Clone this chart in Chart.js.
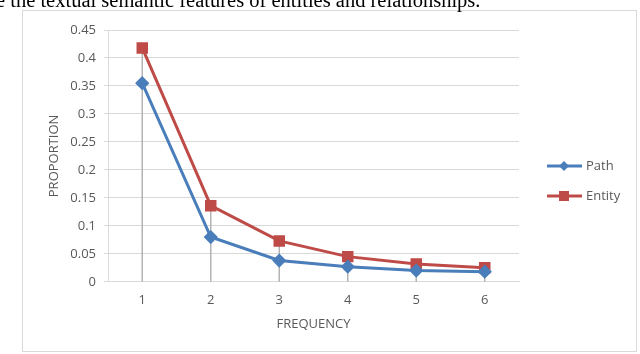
<!DOCTYPE html>
<html>
<head>
<meta charset="utf-8">
<script src="https://cdn.jsdelivr.net/npm/chart.js@4.4.1/dist/chart.umd.min.js"></script>
<style>
  html, body { margin: 0; padding: 0; background: #fff; }
  #wrap { position: relative; width: 640px; height: 354px; overflow: hidden; }
  #caption {
    position: absolute; left: -4px; top: -11px; white-space: nowrap;
    font-family: "Liberation Serif", "Times New Roman", serif; font-size: 20.5px; color: #000;
  }
  #frame {
    position: absolute; left: 22px; top: 10px; width: 613px; height: 340px;
    border: 1px solid #d9d9d9;
  }
  canvas { position: absolute; left: 0; top: 0; }
</style>
</head>
<body>
<div id="wrap">
  <div id="frame"></div>
  <canvas id="chart" width="640" height="354"></canvas>
  <div id="caption">e the textual semantic features of entities and relationships.</div>
</div>
<script>
// data
const frequencies = ['1', '2', '3', '4', '5', '6'];
const pathValues = [0.355, 0.080, 0.038, 0.027, 0.020, 0.018];
const entityValues = [0.418, 0.136, 0.073, 0.045, 0.032, 0.025];
const seriesNames = ['Path', 'Entity'];

const gray = '#595959';
const blue = '#4a7ebb';
const red = '#be4b48';

// gray drop lines from the highest point of each category down to the x axis
const dropLines = {
  id: 'dropLines',
  beforeDatasetsDraw(chart) {
    const ctx = chart.ctx;
    const xs = chart.scales.x, ys = chart.scales.y;
    ctx.save();
    ctx.strokeStyle = '#b3b3b3';
    ctx.lineWidth = 1.5;
    frequencies.forEach((f, i) => {
      const top = Math.max(...chart.data.datasets.map(d => d.data[i]));
      const x = xs.getPixelForValue(i);
      ctx.beginPath();
      ctx.moveTo(x, ys.getPixelForValue(top));
      ctx.lineTo(x, ys.getPixelForValue(0));
      ctx.stroke();
    });
    ctx.restore();
  }
};

// legend drawn as line + marker, like the office style
const sideLegend = {
  id: 'sideLegend',
  afterDraw(chart) {
    const ctx = chart.ctx;
    ctx.save();
    chart.data.datasets.forEach((d, i) => {
      const y = 166 + i * 30;
      ctx.strokeStyle = d.borderColor;
      ctx.lineWidth = 3;
      ctx.beginPath();
      ctx.moveTo(547, y);
      ctx.lineTo(582, y);
      ctx.stroke();
      ctx.fillStyle = d.borderColor;
      if (d.pointStyle === 'rect') {
        ctx.fillRect(559, y - 5, 10, 10);
      } else {
        ctx.beginPath();
        ctx.moveTo(564, y - 5);
        ctx.lineTo(569, y);
        ctx.lineTo(564, y + 5);
        ctx.lineTo(559, y);
        ctx.closePath();
        ctx.fill();
      }
      ctx.fillStyle = gray;
      ctx.font = '13px "Open Sans", sans-serif';
      ctx.textBaseline = 'middle';
      ctx.fillText(d.label, 586, y);
    });
    ctx.restore();
  }
};

new Chart(document.getElementById('chart'), {
  type: 'line',
  data: {
    labels: frequencies,
    datasets: [
      {
        label: seriesNames[0],
        data: pathValues,
        borderColor: blue,
        backgroundColor: blue,
        borderWidth: 3,
        pointStyle: 'rectRot',
        pointRadius: 5,
        pointHoverRadius: 5,
        tension: 0
      },
      {
        label: seriesNames[1],
        data: entityValues,
        borderColor: red,
        backgroundColor: red,
        borderWidth: 3,
        pointStyle: 'rect',
        pointRadius: 6,
        pointHoverRadius: 6,
        tension: 0
      }
    ]
  },
  options: {
    responsive: false,
    animation: false,
    layout: { padding: { left: 42, right: 121, top: 30, bottom: 18 } },
    plugins: {
      legend: { display: false },
      tooltip: { enabled: false }
    },
    scales: {
      x: {
        offset: true,
        grid: { display: false, drawTicks: false },
        border: { color: '#d9d9d9', width: 1 },
        ticks: { color: gray, font: { family: 'Open Sans', size: 13 }, padding: 11 },
        title: { display: true, text: 'FREQUENCY', color: gray, font: { family: 'Open Sans', size: 13 }, padding: { top: -3 } }
      },
      y: {
        min: 0,
        max: 0.45,
        afterFit(scale) { scale.width = 66; },
        ticks: {
          stepSize: 0.05,
          color: gray,
          font: { family: 'Open Sans', size: 13 },
          padding: 8,
          callback: v => String(Number(v.toFixed(2)))
        },
        grid: { color: '#d9d9d9', tickLength: 4 },
        border: { color: '#d9d9d9' },
        title: { display: true, text: 'PROPORTION', color: gray, font: { family: 'Open Sans', size: 13 }, padding: { bottom: 8 } }
      }
    }
  },
  plugins: [dropLines, sideLegend]
});
</script>
</body>
</html>
